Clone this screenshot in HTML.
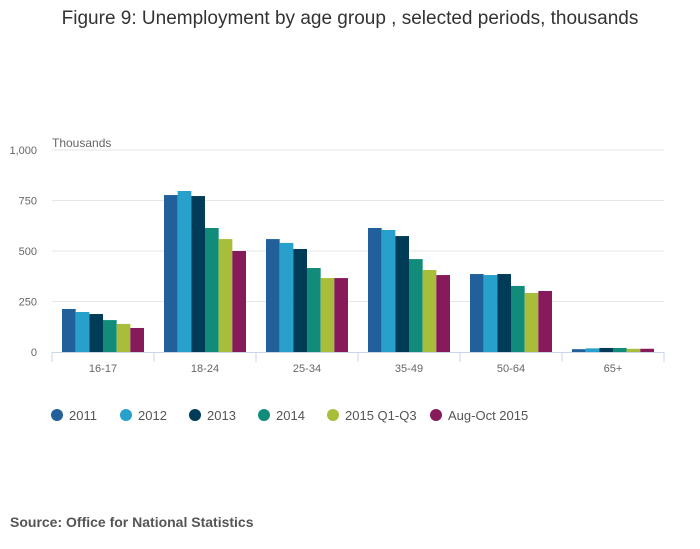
<!DOCTYPE html>
<html><head><meta charset="utf-8"><style>
body{margin:0;background:#fff;font-family:"Liberation Sans",sans-serif;}
#wrap{position:relative;width:700px;height:549px;overflow:hidden}
</style></head><body>
<div id="wrap">
<svg id="chart" width="700" height="549"></svg>
</div>
<script>
const categories=["16-17","18-24","25-34","35-49","50-64","65+"];
const seriesNames=["2011","2012","2013","2014","2015 Q1-Q3","Aug-Oct 2015"];
const seriesColors=["#21609a","#27a0cc","#003c57","#118c7b","#a8bd3a","#871a5b"];
const s2011=[213,777,559,614,386,14];
const s2012=[198,797,540,604,381,18];
const s2013=[188,772,510,574,386,20];
const s2014=[158,614,416,460,327,20];
const s2015=[139,559,366,406,292,16];
const sAug=[119,500,366,381,302,16];
const seriesValues=[s2011,s2012,s2013,s2014,s2015,sAug];
const yTicks=[0,250,500,750,1000];
const yTickLabels=["0","250","500","750","1,000"];
const NS="http://www.w3.org/2000/svg";
const svg=document.getElementById('chart');
const X0=52,X1=664,Y0=352,Y1=150,YMAX=1000;
const bandW=(X1-X0)/categories.length;
function y(v){return Y0-(v/YMAX)*(Y0-Y1);}
function xBand(i){return X0+i*bandW;}
function mk(tag,attrs,parent){const e=document.createElementNS(NS,tag);for(const k in attrs)e.setAttribute(k,attrs[k]);(parent||svg).appendChild(e);return e;}
let t=mk('text',{x:350,y:24,'text-anchor':'middle','font-size':19,fill:'#333'});


t.textContent="Figure 9: Unemployment by age group , selected periods, thousands";
t=mk('text',{x:52,y:147,'font-size':12,fill:'#666'});


t.textContent="Thousands";
yTicks.forEach((v,i)=>{
 if(v>0){const g=mk('line',{x1:X0,x2:X1,y1:y(v),y2:y(v),stroke:'#e6e6e6','stroke-width':1});
 
 }
 const l=mk('text',{x:37,y:y(v)+4,'text-anchor':'end','font-size':11,fill:'#666'});
 
 
 l.textContent=yTickLabels[i];
});
const pad=10,bw=(bandW-2*pad)/seriesNames.length;
seriesValues.forEach((vals,s)=>{
 vals.forEach((v,i)=>{
  const r=mk('rect',{x:xBand(i)+pad+s*bw,y:y(v),width:bw,height:Y0-y(v),fill:seriesColors[s]});
  
  
 });
});
let ax=mk('line',{x1:X0,x2:X1,y1:Y0+0.5,y2:Y0+0.5,stroke:'#ccd6eb','stroke-width':1});


for(let i=0;i<=categories.length;i++){
 const tk=mk('line',{x1:xBand(i),x2:xBand(i),y1:Y0,y2:Y0+10,stroke:'#ccd6eb'});
 
 
}
categories.forEach((c,i)=>{
 const l=mk('text',{x:xBand(i)+bandW/2,y:372,'text-anchor':'middle','font-size':11,fill:'#666'});
 
 
 l.textContent=c;
});
const legX=[57,126,195,264,333,436];
seriesNames.forEach((n,s)=>{
 const g=mk('g',{});
 
 
 mk('circle',{cx:legX[s],cy:415,r:6,fill:seriesColors[s]},g);
 const tx=mk('text',{x:legX[s]+12,y:420,'font-size':13,fill:'#555'},g);
 tx.textContent=n;
});
t=mk('text',{x:10,y:527,'font-size':14,'font-weight':'bold',fill:'#555'});


t.textContent="Source: Office for National Statistics";
</script>
</body></html>
